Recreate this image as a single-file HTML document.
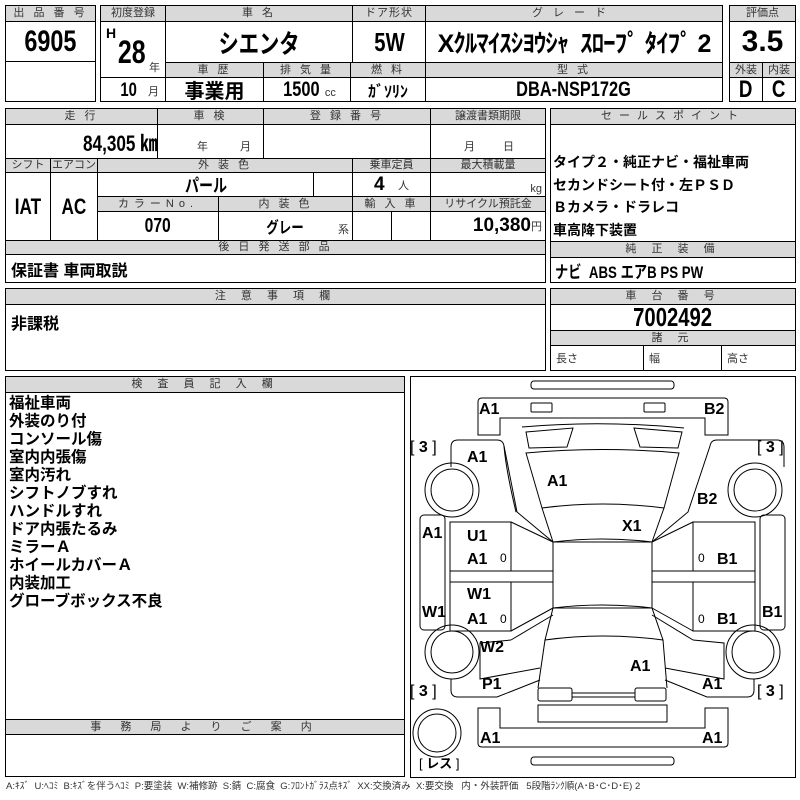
<!DOCTYPE html>
<html><head><meta charset="utf-8"><style>
*{margin:0;padding:0;box-sizing:border-box}
body{width:800px;height:800px;background:#fff;position:relative;overflow:hidden;font-family:"Liberation Sans","Noto Sans CJK JP",sans-serif;color:#000}
.c{position:absolute;border:1px solid #000;display:flex;align-items:center;justify-content:center;white-space:nowrap;overflow:hidden}
.h{background:#d9d9d9;font-size:11px;letter-spacing:3px;color:#333;line-height:1}
.b{font-weight:bold;font-family:"Liberation Sans","Noto Sans CJK JP",sans-serif}
.n{display:inline-block;transform:scaleX(.78)}
.t{position:absolute;white-space:nowrap;line-height:1}
.s{font-size:11px;font-weight:normal;color:#333}
.k{font-weight:bold;font-size:16px;font-family:"Liberation Sans","Noto Sans CJK JP",sans-serif}
</style></head><body>
<!-- box1 -->
<div class="c h" style="left:5px;top:5px;width:91px;height:17px">出 品 番 号</div>
<div class="c b" style="left:5px;top:21px;width:91px;height:41px;font-size:30px"><span class="n">6905</span></div>
<div class="c" style="left:5px;top:61px;width:91px;height:41px"></div>
<!-- box2 -->
<div class="c h" style="left:100px;top:5px;width:66px;height:17px;letter-spacing:0">初度登録</div>
<div class="c" style="left:100px;top:21px;width:66px;height:57px"></div>
<div class="t b" style="left:106px;top:26px;font-size:14px">H</div>
<div class="t b" style="left:114px;top:36px;font-size:32px"><span class="n">28</span></div>
<div class="t s" style="left:149px;top:63px">年</div>
<div class="c" style="left:100px;top:77px;width:66px;height:25px"></div>
<div class="t b" style="left:118px;top:81px;font-size:19px"><span class="n">10</span></div>
<div class="t s" style="left:148px;top:87px">月</div>
<div class="c h" style="left:165px;top:5px;width:188px;height:17px">車 名</div>
<div class="c b" style="left:165px;top:21px;width:188px;height:42px;font-size:26px"><span class="n">シエンタ</span></div>
<div class="c h" style="left:352px;top:5px;width:74px;height:17px;letter-spacing:1px">ドア形状</div>
<div class="c b" style="left:352px;top:21px;width:74px;height:42px;font-size:26px"><span class="n">5W</span></div>
<div class="c h" style="left:425px;top:5px;width:298px;height:17px;letter-spacing:10px">グレード</div>
<div class="c b" style="left:425px;top:21px;width:298px;height:42px;font-size:25px;letter-spacing:-1px">Xｸﾙﾏｲｽｼﾖｳｼｬ&nbsp;&nbsp;ｽﾛｰﾌﾟ ﾀｲﾌﾟ 2</div>
<div class="c h" style="left:165px;top:62px;width:99px;height:16px">車 歴</div>
<div class="c h" style="left:263px;top:62px;width:88px;height:16px">排 気 量</div>
<div class="c h" style="left:350px;top:62px;width:76px;height:16px">燃 料</div>
<div class="c h" style="left:425px;top:62px;width:298px;height:16px">型 式</div>
<div class="c b" style="left:165px;top:77px;width:99px;height:25px;font-size:20px">事業用</div>
<div class="c" style="left:263px;top:77px;width:88px;height:25px"><span class="b n" style="font-size:21px">1500</span><span class="s" style="margin-top:6px">cc</span></div>
<div class="c b" style="left:350px;top:77px;width:76px;height:25px;font-size:16px">ｶﾞｿﾘﾝ</div>
<div class="c b" style="left:425px;top:77px;width:298px;height:25px;font-size:21px"><span class="n">DBA-NSP172G</span></div>
<!-- box3 -->
<div class="c h" style="left:729px;top:5px;width:67px;height:17px;letter-spacing:0">評価点</div>
<div class="c b" style="left:729px;top:21px;width:67px;height:42px;font-size:30px">3.5</div>
<div class="c h" style="left:729px;top:62px;width:34px;height:16px;letter-spacing:0">外装</div>
<div class="c h" style="left:762px;top:62px;width:34px;height:16px;letter-spacing:0">内装</div>
<div class="c b" style="left:729px;top:77px;width:34px;height:25px;font-size:24px"><span class="n">D</span></div>
<div class="c b" style="left:762px;top:77px;width:34px;height:25px;font-size:24px"><span class="n">C</span></div>
<!-- section2 -->
<div class="c h" style="left:5px;top:108px;width:153px;height:17px">走 行</div>
<div class="c h" style="left:157px;top:108px;width:107px;height:17px">車 検</div>
<div class="c h" style="left:263px;top:108px;width:168px;height:17px">登 録 番 号</div>
<div class="c h" style="left:430px;top:108px;width:116px;height:17px;letter-spacing:0">譲渡書類期限</div>
<div class="c" style="left:5px;top:124px;width:153px;height:35px;justify-content:flex-end;padding-right:0"><span class="b n" style="font-size:22px;transform-origin:right">84,305 ㎞</span></div>
<div class="c" style="left:157px;top:124px;width:107px;height:35px"></div>
<div class="t s" style="left:197px;top:142px">年</div><div class="t s" style="left:240px;top:142px">月</div>
<div class="c" style="left:263px;top:124px;width:168px;height:35px"></div>
<div class="c" style="left:430px;top:124px;width:116px;height:35px"></div>
<div class="t s" style="left:464px;top:142px">月</div><div class="t s" style="left:503px;top:142px">日</div>
<div class="c h" style="left:5px;top:158px;width:46px;height:15px;letter-spacing:0">シフト</div>
<div class="c h" style="left:50px;top:158px;width:48px;height:15px;letter-spacing:0">エアコン</div>
<div class="c h" style="left:97px;top:158px;width:256px;height:15px">外 装 色</div>
<div class="c h" style="left:352px;top:158px;width:79px;height:15px;letter-spacing:0">乗車定員</div>
<div class="c h" style="left:430px;top:158px;width:116px;height:15px;letter-spacing:0">最大積載量</div>
<div class="c b" style="left:5px;top:172px;width:46px;height:69px;font-size:22px"><span class="n">IAT</span></div>
<div class="c b" style="left:50px;top:172px;width:48px;height:69px;font-size:22px"><span class="n">AC</span></div>
<div class="c b" style="left:97px;top:172px;width:217px;height:25px;font-size:18px"><span class="n">パール</span></div>
<div class="c" style="left:313px;top:172px;width:40px;height:25px"></div>
<div class="c" style="left:352px;top:172px;width:79px;height:25px"><span class="b" style="font-size:19px">4</span>&nbsp;&nbsp;&nbsp;<span class="s">人</span></div>
<div class="c" style="left:430px;top:172px;width:116px;height:25px;justify-content:flex-end;padding-right:3px"><span class="s" style="margin-top:8px">kg</span></div>
<div class="c h" style="left:97px;top:196px;width:122px;height:16px;letter-spacing:5px">カラーNo.</div>
<div class="c h" style="left:218px;top:196px;width:135px;height:16px">内 装 色</div>
<div class="c h" style="left:352px;top:196px;width:79px;height:16px">輸 入 車</div>
<div class="c h" style="left:430px;top:196px;width:116px;height:16px;letter-spacing:0">リサイクル預託金</div>
<div class="c b" style="left:97px;top:211px;width:122px;height:30px;font-size:20px"><span class="n">070</span></div>
<div class="c b" style="left:218px;top:211px;width:135px;height:30px;font-size:16px"><span class="n">グレー</span></div>
<div class="t s" style="left:338px;top:225px">系</div>
<div class="c" style="left:352px;top:211px;width:40px;height:30px"></div>
<div class="c" style="left:391px;top:211px;width:40px;height:30px"></div>
<div class="c" style="left:430px;top:211px;width:116px;height:30px;justify-content:flex-end;padding-right:3px"><span class="b" style="font-size:19px">10,380</span><span class="s">円</span></div>
<div class="c h" style="left:5px;top:240px;width:541px;height:15px">後 日 発 送 部 品</div>
<div class="c" style="left:5px;top:254px;width:541px;height:29px;justify-content:flex-start;padding-left:5px"><span class="k">保証書 車両取説</span></div>
<!-- sales -->
<div class="c h" style="left:550px;top:108px;width:246px;height:17px;letter-spacing:7px">セールスポイント</div>
<div class="c" style="left:550px;top:124px;width:246px;height:118px"></div>
<div class="t" style="left:553px;top:151px;font-size:14px;font-weight:bold;line-height:22.5px">タイプ２・純正ナビ・福祉車両<br>セカンドシート付・左ＰＳＤ<br>Ｂカメラ・ドラレコ<br>車高降下装置</div>
<div class="c h" style="left:550px;top:241px;width:246px;height:17px;letter-spacing:6px">純 正 装 備</div>
<div class="c b" style="left:550px;top:257px;width:246px;height:26px;justify-content:flex-start;padding-left:4px;font-size:17px"><span class="n" style="transform-origin:left">ナビ&nbsp;&nbsp;ABS&nbsp;エアB&nbsp;PS&nbsp;PW</span></div>
<!-- note -->
<div class="c h" style="left:5px;top:288px;width:541px;height:17px;letter-spacing:6px">注 意 事 項 欄</div>
<div class="c" style="left:5px;top:304px;width:541px;height:67px;align-items:flex-start;justify-content:flex-start;padding:5px"><span class="k">非課税</span></div>
<div class="c h" style="left:550px;top:288px;width:246px;height:17px;letter-spacing:6px">車 台 番 号</div>
<div class="c b" style="left:550px;top:304px;width:246px;height:27px;font-size:26px"><span class="n">7002492</span></div>
<div class="c h" style="left:550px;top:330px;width:246px;height:16px;letter-spacing:6px">諸 元</div>
<div class="c" style="left:550px;top:345px;width:94px;height:26px;justify-content:flex-start;padding-left:5px"><span class="s">長さ</span></div>
<div class="c" style="left:643px;top:345px;width:79px;height:26px;justify-content:flex-start;padding-left:5px"><span class="s">幅</span></div>
<div class="c" style="left:721px;top:345px;width:75px;height:26px;justify-content:flex-start;padding-left:5px"><span class="s">高さ</span></div>
<!-- inspector -->
<div class="c h" style="left:5px;top:376px;width:400px;height:17px;letter-spacing:6px">検 査 員 記 入 欄</div>
<div class="c" style="left:5px;top:392px;width:400px;height:328px"></div>
<div class="t" style="left:9px;top:395px;font-size:15.5px;font-weight:bold;line-height:18px">福祉車両<br>外装のり付<br>コンソール傷<br>室内内張傷<br>室内汚れ<br>シフトノブすれ<br>ハンドルすれ<br>ドア内張たるみ<br>ミラーＡ<br>ホイールカバーＡ<br>内装加工<br>グローブボックス不良</div>
<div class="c h" style="left:5px;top:719px;width:400px;height:16px;letter-spacing:8px">事 務 局 よ り ご 案 内</div>
<div class="c" style="left:5px;top:734px;width:400px;height:43px"></div>
<div class="t" style="left:6px;top:782px;font-size:9.5px;color:#333;letter-spacing:0">A:ｷｽﾞ&nbsp; U:ﾍｺﾐ&nbsp; B:ｷｽﾞを伴うﾍｺﾐ&nbsp; P:要塗装&nbsp; W:補修跡&nbsp; S:錆&nbsp; C:腐食&nbsp; G:ﾌﾛﾝﾄｶﾞﾗｽ点ｷｽﾞ&nbsp; XX:交換済み&nbsp; X:要交換&nbsp;&nbsp; 内・外装評価&nbsp;&nbsp; 5段階ﾗﾝｸ順(A･B･C･D･E) 2</div>
<!-- diagram -->
<div class="c" style="left:410px;top:376px;width:386px;height:402px"></div>
<svg style="position:absolute;left:0;top:0" width="800" height="800" fill="none" stroke="#000" stroke-width="1">
<rect x="531" y="381" width="143" height="8" rx="3"/>
<path d="M478,435 V402 q0,-4 4,-4 H724 q4,0 4,4 V435 H705 V418 H500 V435 Z"/>
<rect x="531" y="403" width="21" height="9" rx="1"/>
<rect x="644" y="403" width="21" height="9" rx="1"/>
<path d="M522,427 Q602,420 684,428"/>
<path d="M526,432 L573,428 L567,447 L529,448 Z"/>
<path d="M634,428 L682,432 L678,448 L640,447 Z"/>
<path d="M526,453 Q602,446 679,453 L664,508 Q602,500 542,508 Z"/>
<path d="M542,508 L553,542 Q602,536 652,542 L664,508"/>
<rect x="553" y="542" width="99" height="66"/>
<path d="M553,608 Q602,602 652,608 L663,640 Q602,632 545,640 Z"/>
<path d="M545,640 L538,688 M663,640 L667,688"/>
<rect x="538" y="688" width="34" height="13" rx="2"/>
<rect x="635" y="688" width="31" height="13" rx="2"/>
<path d="M572,693 H635 M572,697 H635"/>
<rect x="538" y="705" width="129" height="17"/>
<path d="M451,467 V447 q0,-7 7,-7 H497 q6,0 7,6 L517,512 L553,542"/>
<path d="M504,446 Q506,470 516,512"/>
<path d="M784,467 V447 q0,-7 -7,-7 H717 q-6,0 -7,6 L688,512 L652,542"/>
<g><circle cx="452" cy="490" r="27"/><circle cx="452" cy="490" r="21"/>
<circle cx="755" cy="490" r="27"/><circle cx="755" cy="490" r="21"/>
<circle cx="452" cy="652" r="27"/><circle cx="452" cy="652" r="21"/>
<circle cx="753" cy="652" r="27"/><circle cx="753" cy="652" r="21"/>
<circle cx="437" cy="733" r="24"/><circle cx="437" cy="733" r="19"/></g>
<rect x="420" y="515" width="25" height="115" rx="4"/>
<path d="M450,522 H511 V571 H450 Z M450,582 H511 V631 H450 Z"/>
<path d="M511,522 L553,542 M511,571 H553 M511,582 H553 M511,631 L553,608 M450,571 V582"/>
<rect x="760" y="515" width="25" height="115" rx="4"/>
<path d="M755,522 H693 V571 H755 Z M755,582 H693 V631 H755 Z"/>
<path d="M693,522 L652,542 M693,571 H652 M693,582 H652 M693,631 L652,608 M755,571 V582"/>
<path d="M511,640 L480,643 V679 L540,668 M451,679 V690 q0,7 7,7 H497 L540,680"/>
<path d="M553,615 L511,640"/>
<path d="M693,640 L724,643 V679 L665,668 M754,679 V690 q0,7 -7,7 H707 L665,680"/>
<path d="M652,615 L693,640"/>
<path d="M478,708 V743 q0,4 4,4 H724 q4,0 4,-4 V708 H705 V728 H500 V708 Z"/>
<rect x="531" y="757" width="143" height="8" rx="3"/>
</svg>
<div style="position:absolute;left:0;top:0;font-weight:bold;font-size:16px">
<div class="t" style="left:410px;top:440px;font-weight:normal">[ <b>3</b> ]</div>
<div class="t" style="left:757px;top:440px;font-weight:normal">[ <b>3</b> ]</div>
<div class="t" style="left:410px;top:684px;font-weight:normal">[ <b>3</b> ]</div>
<div class="t" style="left:757px;top:684px;font-weight:normal">[ <b>3</b> ]</div>
<div class="t" style="left:419px;top:757px;font-size:13px;font-weight:normal">[ <b>レス</b> ]</div>
<div class="t" style="left:479px;top:402px">A1</div>
<div class="t" style="left:704px;top:402px">B2</div>
<div class="t" style="left:467px;top:450px">A1</div>
<div class="t" style="left:547px;top:474px">A1</div>
<div class="t" style="left:697px;top:492px">B2</div>
<div class="t" style="left:622px;top:519px">X1</div>
<div class="t" style="left:422px;top:526px">A1</div>
<div class="t" style="left:467px;top:529px">U1</div>
<div class="t" style="left:467px;top:552px">A1</div>
<div class="t" style="left:467px;top:587px">W1</div>
<div class="t" style="left:422px;top:605px">W1</div>
<div class="t" style="left:467px;top:612px">A1</div>
<div class="t" style="left:717px;top:552px">B1</div>
<div class="t" style="left:717px;top:612px">B1</div>
<div class="t" style="left:762px;top:605px">B1</div>
<div class="t" style="left:480px;top:640px">W2</div>
<div class="t" style="left:630px;top:659px">A1</div>
<div class="t" style="left:482px;top:677px">P1</div>
<div class="t" style="left:702px;top:677px">A1</div>
<div class="t" style="left:480px;top:731px">A1</div>
<div class="t" style="left:702px;top:731px">A1</div>
<div class="t" style="left:500px;top:552px;font-size:12px;font-weight:normal">0</div>
<div class="t" style="left:500px;top:613px;font-size:12px;font-weight:normal">0</div>
<div class="t" style="left:698px;top:552px;font-size:12px;font-weight:normal">0</div>
<div class="t" style="left:698px;top:613px;font-size:12px;font-weight:normal">0</div>
</div>
</body></html>
